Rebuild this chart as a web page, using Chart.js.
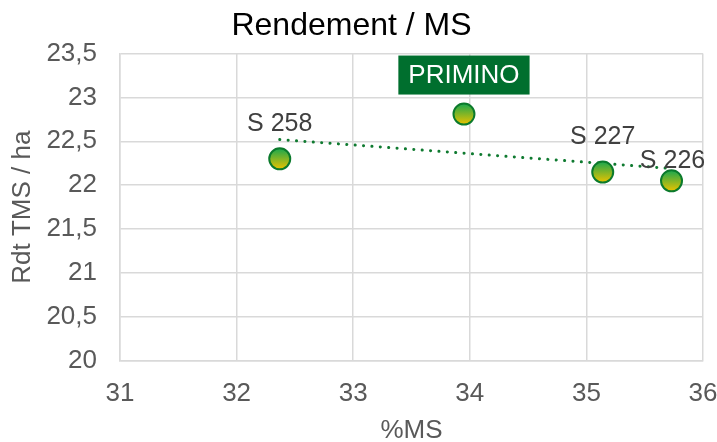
<!DOCTYPE html>
<html>
<head>
<meta charset="utf-8">
<script src="https://cdn.jsdelivr.net/npm/chart.js@4/dist/chart.umd.min.js"></script>
<style>
  html, body { margin: 0; padding: 0; background: #fff; }
  #wrap { width: 717px; height: 442px; }
</style>
</head>
<body>
<div id="wrap"><canvas id="chart"></canvas></div>
<script>
// données
const varietes = ['S 258', 'PRIMINO', 'S 227', 'S 226'];
const tauxMS = [32.37, 33.95, 35.14, 35.73];
const rendement = [22.30, 22.81, 22.15, 22.05];

// tendance linéaire (extrémités lues)
const tendanceX = [32.37, 35.73];
const tendanceY = [22.52, 22.19];

// décalage des étiquettes par rapport au point (px)
const decalages = [[0, -36], [0, -39], [0, -36], [1, -21]];

const police = '"Liberation Sans", Arial, sans-serif';

const pointsData = tauxMS.map((x, i) => ({ x: x, y: rendement[i] }));
const tendanceData = tendanceX.map((x, i) => ({ x: x, y: tendanceY[i] }));

const labelPlugin = {
  id: 'etiquettes',
  afterDatasetsDraw(chart) {
    const ctx = chart.ctx;
    const xs = chart.scales.x;
    const ys = chart.scales.y;
    ctx.save();
    ctx.font = '25px ' + police;
    ctx.textAlign = 'center';
    ctx.textBaseline = 'middle';
    varietes.forEach((nom, i) => {
      const px = xs.getPixelForValue(tauxMS[i]) + decalages[i][0];
      const py = ys.getPixelForValue(rendement[i]) + decalages[i][1];
      if (nom === 'PRIMINO') {
        ctx.font = '26px ' + police;
        const w = ctx.measureText(nom).width + 20;
        ctx.fillStyle = '#006f2e';
        ctx.fillRect(px - w / 2, py - 19.5, w, 39);
        ctx.fillStyle = '#ffffff';
      } else {
        ctx.font = '25px ' + police;
        ctx.fillStyle = '#404040';
      }
      ctx.fillText(nom, px, py + 1);
    });
    ctx.restore();
  }
};

const ctx = document.getElementById('chart').getContext('2d');

new Chart(ctx, {
  type: 'scatter',
  data: {
    datasets: [
      {
        label: 'Tendance',
        type: 'line',
        data: tendanceData,
        borderColor: '#0f7a30',
        borderWidth: 3,
        borderDash: [0.1, 8.3],
        borderCapStyle: 'round',
        pointRadius: 0,
        fill: false,
        order: 2,
      },
      {
        label: 'Rendement',
        data: pointsData,
        pointRadius: 10.5,
        borderWidth: 2,
        borderColor: '#0b7a2c',
        backgroundColor: (c) => {
          const chart = c.chart;
          if (!chart.scales.y || !c.parsed) return '#7cb83a';
          const py = chart.scales.y.getPixelForValue(c.parsed.y);
          if (!isFinite(py)) return '#7cb83a';
          const g = chart.ctx.createLinearGradient(0, py - 10, 0, py + 10);
          g.addColorStop(0, '#1ea84c');
          g.addColorStop(1, '#e6c200');
          return g;
        },
        order: 1,
      },
    ],
  },
  options: {
    responsive: true,
    maintainAspectRatio: false,
    animation: false,
    events: [],
    layout: {
      padding: { top: 0, left: 0, right: 14, bottom: 0 },
    },
    plugins: {
      legend: { display: false },
      tooltip: { enabled: false },
      title: {
        display: true,
        text: 'Rendement / MS',
        color: '#000000',
        font: { family: police, size: 32, weight: 'normal' },
        padding: { top: 7, bottom: 8 },
      },
    },
    scales: {
      x: {
        type: 'linear',
        min: 31,
        max: 36,
        ticks: {
          stepSize: 1,
          color: '#595959',
          padding: 17,
          font: { family: police, size: 26 },
        },
        grid: { color: '#d9d9d9', lineWidth: 1.5, drawTicks: false },
        border: { color: '#d9d9d9', width: 1.5 },
        title: {
          display: true,
          text: '%MS',
          color: '#595959',
          padding: 0,
          font: { family: police, size: 26, lineHeight: 0.85 },
        },
        afterFit(scale) {
          scale.height = 81;
          scale.paddingLeft = 0;
          scale.paddingRight = 0;
        },
      },
      y: {
        min: 20,
        max: 23.5,
        ticks: {
          stepSize: 0.5,
          color: '#595959',
          padding: 23,
          font: { family: police, size: 26 },
          callback: (v) => String(v).replace('.', ','),
        },
        grid: { color: '#d9d9d9', lineWidth: 1.5, drawTicks: false },
        border: { color: '#d9d9d9', width: 1.5 },
        title: {
          display: true,
          text: 'Rdt TMS / ha',
          color: '#595959',
          padding: { top: 10, bottom: 0 },
          font: { family: police, size: 26, lineHeight: 1 },
        },
        afterFit(scale) {
          scale.width = 120;
          scale.paddingTop = 0;
          scale.paddingBottom = 0;
        },
      },
    },
  },
  plugins: [labelPlugin],
});
</script>
</body>
</html>
